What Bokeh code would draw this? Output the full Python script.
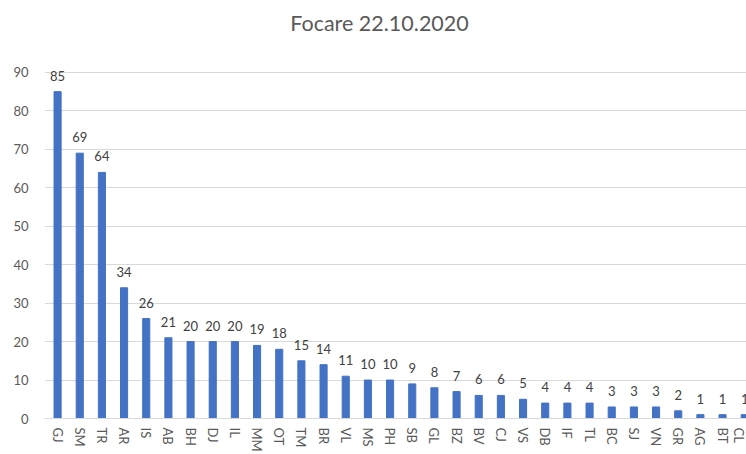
from bokeh.plotting import figure
from bokeh.models import ColumnDataSource, LabelSet, Label, FixedTicker, Range1d
from bokeh.core.properties import value
from bokeh.embed import file_html
from bokeh.resources import INLINE

title_text = "Focare 22.10.2020"
categories = ["GJ", "SM", "TR", "AR", "IS", "AB", "BH", "DJ", "IL", "MM", "OT", "TM",
              "BR", "VL", "MS", "PH", "SB", "GL", "BZ", "BV", "CJ", "VS", "DB", "IF",
              "TL", "BC", "SJ", "VN", "GR", "AG", "BT", "CL"]
values = [85, 69, 64, 34, 26, 21, 20, 20, 20, 19, 18, 15,
          14, 11, 10, 10, 9, 8, 7, 6, 6, 5, 4, 4,
          4, 3, 3, 3, 2, 1, 1, 1]
y_ticks = [0, 10, 20, 30, 40, 50, 60, 70, 80, 90]

idx = list(range(len(categories)))
src = ColumnDataSource(dict(x=idx, v=values, lab=[str(v) for v in values]))

FONT = "Lato"
# frame spans the full height above the x axis; the area above 90 is empty
p = figure(width=746, height=454, output_backend="svg", toolbar_location=None,
           x_range=Range1d(-0.59, 31.08), y_range=Range1d(0, 108.7),
           min_border_left=44, min_border_right=0, min_border_top=0, min_border_bottom=36)

title = Label(x=335, y=396, x_units="screen", y_units="screen", text=title_text,
              text_align="center", text_baseline="alphabetic",
              text_font=FONT, text_font_size="21.5px", text_color="#595959")
p.add_layout(title)

p.vbar(x="x", top="v", width=0.32, source=src, color="#4472C4")

labels = LabelSet(x="x", y="v", text="lab", source=src, y_offset=11,
                  text_align="center", text_baseline="alphabetic",
                  text_font=value(FONT), text_font_size=value("13px"),
                  text_color=value("#404040"))
p.add_layout(labels)

p.outline_line_color = None
p.background_fill_color = "white"
p.border_fill_color = "white"

p.xgrid.grid_line_color = None
p.ygrid.grid_line_color = "#D9D9D9"
p.yaxis.ticker = FixedTicker(ticks=y_ticks)
p.yaxis.axis_line_color = None
p.yaxis.major_tick_line_color = None
p.yaxis.minor_tick_line_color = None
p.yaxis.major_tick_out = 0
p.yaxis.major_tick_in = 0
p.yaxis.major_label_text_font = FONT
p.yaxis.major_label_text_font_size = "13px"
p.yaxis.major_label_text_color = "#595959"
p.yaxis.major_label_standoff = 16

p.xaxis.ticker = FixedTicker(ticks=idx)
p.xaxis.major_label_overrides = {i: c for i, c in zip(idx, categories)}
p.xaxis.major_label_orientation = "vertical"
p.xaxis.axis_line_color = "#D9D9D9"
p.xaxis.major_tick_line_color = None
p.xaxis.minor_tick_line_color = None
p.xaxis.major_tick_out = 0
p.xaxis.major_tick_in = 0
p.xaxis.axis_label_standoff = 0
p.xaxis.major_label_text_font = FONT
p.xaxis.major_label_text_font_size = "13px"
p.xaxis.major_label_text_color = "#595959"
p.xaxis.major_label_standoff = 9

open("out.html", "w").write(file_html(p, INLINE))
